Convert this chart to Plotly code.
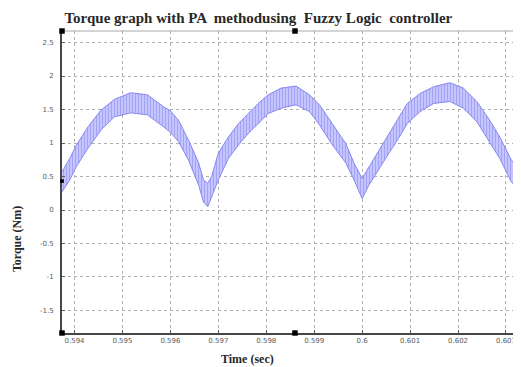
import plotly.graph_objects as go

# ---- data (time in s, torque envelope in Nm) ----
time_s = [0.59374, 0.59390, 0.59404, 0.59428, 0.59455, 0.59483, 0.59517, 0.59552,
          0.59586, 0.59600, 0.59617, 0.59638, 0.59659, 0.59669, 0.59678, 0.59686,
          0.59700, 0.59721, 0.59742, 0.59762, 0.59783, 0.59804, 0.59831, 0.59862,
          0.59890, 0.59911, 0.59938, 0.59966, 0.59983, 0.60000, 0.60014, 0.60035,
          0.60056, 0.60076, 0.60094, 0.60121, 0.60149, 0.60183, 0.60211, 0.60239,
          0.60266, 0.60287, 0.60311, 0.60332]
torque_upper = [0.57, 0.77, 0.97, 1.24, 1.49, 1.65, 1.75, 1.72,
                1.54, 1.48, 1.34, 1.04, 0.70, 0.45, 0.40, 0.50,
                0.85, 1.09, 1.29, 1.44, 1.59, 1.72, 1.82, 1.85,
                1.72, 1.57, 1.29, 0.99, 0.70, 0.47, 0.64, 0.89,
                1.14, 1.37, 1.59, 1.74, 1.84, 1.90, 1.82, 1.62,
                1.34, 1.09, 0.75, 0.55]
torque_lower = [0.27, 0.45, 0.65, 0.92, 1.19, 1.39, 1.45, 1.42,
                1.24, 1.16, 1.02, 0.74, 0.37, 0.12, 0.05, 0.20,
                0.45, 0.77, 0.97, 1.14, 1.29, 1.44, 1.52, 1.57,
                1.47, 1.27, 0.97, 0.70, 0.45, 0.17, 0.37, 0.60,
                0.85, 1.07, 1.29, 1.47, 1.59, 1.62, 1.52, 1.32,
                1.02, 0.77, 0.42, 0.25]

x_tick_vals = [0.594, 0.595, 0.596, 0.597, 0.598, 0.599, 0.600, 0.601, 0.602, 0.603]
x_tick_text = ["0.594", "0.595", "0.596", "0.597", "0.598", "0.599", "0.6", "0.601", "0.602", "0.603"]
y_tick_vals = [-1.5, -1, -0.5, 0, 0.5, 1, 1.5, 2, 2.5]
y_tick_text = ["-1.5", "-1", "-0.5", "0", "0.5", "1", "1.5", "2", "2.5"]

title_text = "Torque graph with PA  methodusing  Fuzzy Logic  controller"
x_title = "Time (sec)"
y_title = "Torque (Nm)"

band_line = "rgb(135,135,240)"

fig = go.Figure()
fig.add_trace(go.Scatter(x=time_s, y=torque_lower, mode="lines",
                         line=dict(color=band_line, width=1), hoverinfo="skip",
                         showlegend=False))
fig.add_trace(go.Scatter(x=time_s, y=torque_upper, mode="lines",
                         line=dict(color=band_line, width=1), fill="tonexty",
                         fillcolor="rgb(190,190,255)",
                         fillpattern=dict(shape="|", size=3, solidity=0.3,
                                          fgcolor="rgb(125,125,236)",
                                          bgcolor="rgb(196,196,255)"),
                         showlegend=False))

serif = "Liberation Serif"
# the page body adds an 8px offset, so the figure is 8px smaller than the window
fig.update_layout(
    width=513, height=359,
    margin=dict(l=54, r=0, t=23, b=34),
    paper_bgcolor="white", plot_bgcolor="white",
    title=dict(text="<b>" + title_text + "</b>", xref="container", x=0.488,
               xanchor="center", yref="container", y=0.972, yanchor="middle",
               font=dict(family=serif, size=15, color="rgb(40,40,40)")),
    showlegend=False,
)
fig.update_xaxes(range=[0.593739, 0.603313], tickvals=x_tick_vals, ticktext=x_tick_text,
                 showgrid=True, gridcolor="rgb(175,175,175)", griddash="dot", gridwidth=1,
                 zeroline=False, showline=True, linecolor="rgb(70,70,70)", linewidth=2,
                 ticks="inside", ticklen=3, tickcolor="rgb(90,90,90)",
                 tickfont=dict(family="DejaVu Sans", size=7, color="rgb(90,90,90)"))
fig.update_yaxes(range=[-1.836, 2.672], tickvals=y_tick_vals, ticktext=y_tick_text,
                 showgrid=True, gridcolor="rgb(175,175,175)", griddash="dot", gridwidth=1,
                 zeroline=False, showline=True, linecolor="rgb(70,70,70)", linewidth=2,
                 ticks="inside", ticklen=3, tickcolor="rgb(90,90,90)", ticklabelstandoff=5,
                 tickfont=dict(family="DejaVu Sans", size=7, color="rgb(90,90,90)"))

# axis titles
fig.add_annotation(text="<b>" + x_title + "</b>", xref="paper", yref="paper",
                   x=0.405, y=-0.086, xanchor="center", yanchor="middle", showarrow=False,
                   font=dict(family=serif, size=12, color="rgb(40,40,40)"))
fig.add_annotation(text="<b>" + y_title + "</b>", xref="paper", yref="paper",
                   x=-0.098, y=0.311, xanchor="center", yanchor="middle", showarrow=False,
                   textangle=-90, font=dict(family=serif, size=12, color="rgb(40,40,40)"))

# top border
fig.add_shape(type="line", xref="paper", yref="paper", x0=0, x1=1, y0=1, y1=1,
              line=dict(color="rgb(170,170,170)", width=1))
# small black handle markers seen in the reference
for (px, py) in [(0, 1), (0, 0), (0.5076, 1), (0.5076, 0)]:
    fig.add_shape(type="rect", xref="paper", yref="paper",
                  x0=px - 0.006, x1=px + 0.006, y0=py - 0.009, y1=py + 0.009,
                  fillcolor="black", line=dict(width=0))
fig.add_shape(type="rect", xref="paper", yref="paper",
              x0=-0.004, x1=0.004, y0=0.497, y1=0.509,
              fillcolor="black", line=dict(width=0))

fig.write_html("out.html")
